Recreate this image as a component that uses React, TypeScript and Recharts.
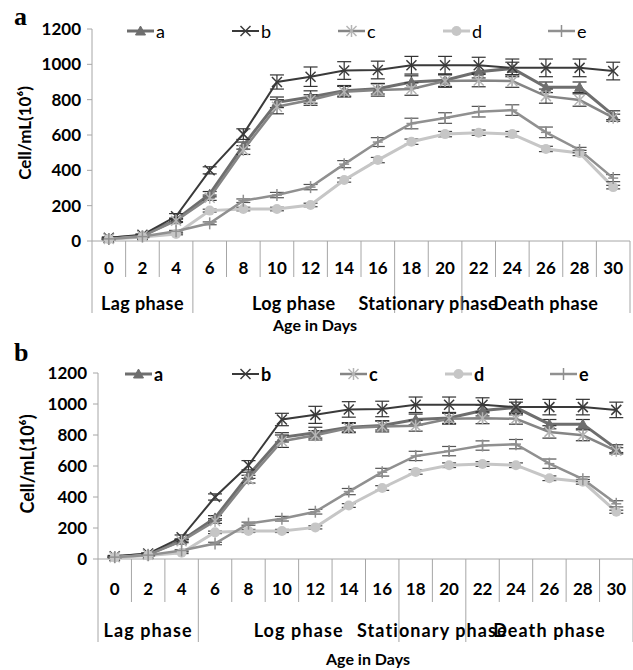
import React from 'react';
import { LineChart, Line, XAxis, YAxis, ErrorBar } from 'recharts';

const days = ['0', '2', '4', '6', '8', '10', '12', '14', '16', '18', '20', '22', '24', '26', '28', '30'];
const seriesA = [15, 30, 120, 265, 540, 785, 815, 850, 862, 900, 910, 958, 977, 870, 870, 712];
const seriesB = [18, 35, 140, 400, 605, 900, 930, 965, 968, 995, 995, 995, 980, 980, 980, 962];
const seriesC = [12, 28, 115, 245, 515, 760, 798, 845, 855, 860, 905, 908, 905, 820, 798, 698];
const seriesD = [10, 22, 40, 172, 181, 181, 204, 345, 458, 562, 605, 613, 605, 521, 498, 305];
const seriesE = [12, 25, 55, 100, 228, 260, 305, 435, 560, 665, 696, 732, 741, 615, 515, 356];
const errA = [5, 5, 10, 15, 20, 30, 35, 30, 30, 35, 35, 35, 35, 30, 30, 25];
const errB = [5, 5, 15, 20, 30, 40, 55, 50, 50, 50, 50, 45, 50, 50, 50, 50];
const errC = [5, 5, 10, 15, 25, 40, 30, 30, 35, 35, 35, 35, 35, 40, 35, 20];
const errD = [3, 3, 5, 8, 10, 10, 10, 12, 15, 15, 15, 15, 15, 15, 15, 10];
const errE = [3, 3, 5, 8, 10, 15, 15, 20, 25, 30, 30, 30, 30, 30, 15, 20];
const yTicks = [0, 200, 400, 600, 800, 1000, 1200];
const phaseLabels = ['Lag phase', 'Log phase', 'Stationary phase', 'Death phase'];
const phaseStarts = [0, 3, 9, 11];
const phaseEnds = [2, 8, 10, 15];
const seriesNames = ['a', 'b', 'c', 'd', 'e'];

const data = days.map((d, i) => ({
  day: d,
  a: seriesA[i], b: seriesB[i], c: seriesC[i], d: seriesD[i], e: seriesE[i],
  aErr: errA[i], bErr: errB[i], cErr: errC[i], dErr: errD[i], eErr: errE[i],
}));

const STYLE: Record<string, { color: string; width: number; kind: string; mark: string; err: string }> = {
  a: { color: '#6e6e6e', width: 3, kind: 'tri', mark: '#6e6e6e', err: '#333' },
  b: { color: '#3a3a3a', width: 2, kind: 'x', mark: '#3a3a3a', err: '#333' },
  c: { color: '#858585', width: 2.5, kind: 'star', mark: '#b5b5b5', err: '#333' },
  d: { color: '#c6c6c6', width: 3, kind: 'circle', mark: '#c6c6c6', err: '#444' },
  e: { color: '#909090', width: 2.5, kind: 'plus', mark: '#909090', err: '#555' },
};

const FONT = 'Lato, "Open Sans", sans-serif';

function Marker({ kind, cx, cy, color }: { kind: string; cx: number; cy: number; color: string }) {
  if (cx == null || cy == null) return null;
  switch (kind) {
    case 'tri':
      return <path d={`M${cx},${cy - 5} L${cx + 5},${cy + 4} L${cx - 5},${cy + 4} Z`} fill={color} stroke={color} />;
    case 'x':
      return (
        <g stroke={color} strokeWidth={1.5}>
          <line x1={cx - 5} y1={cy - 5} x2={cx + 5} y2={cy + 5} />
          <line x1={cx - 5} y1={cy + 5} x2={cx + 5} y2={cy - 5} />
        </g>
      );
    case 'star':
      return (
        <g stroke={color} strokeWidth={1.5}>
          <line x1={cx - 5} y1={cy - 5} x2={cx + 5} y2={cy + 5} />
          <line x1={cx - 5} y1={cy + 5} x2={cx + 5} y2={cy - 5} />
          <line x1={cx} y1={cy - 6} x2={cx} y2={cy + 6} />
        </g>
      );
    case 'circle':
      return <circle cx={cx} cy={cy} r={5} fill={color} />;
    default:
      return (
        <g stroke={color} strokeWidth={1.5}>
          <line x1={cx} y1={cy - 6} x2={cx} y2={cy + 6} />
          <line x1={cx - 5} y1={cy} x2={cx + 5} y2={cy} />
        </g>
      );
  }
}

type Cfg = {
  top: number; height: number; marginTop: number; axisH: number; yW: number; right: number;
  tickLen: number; longLen: number; labelDy: number; phaseDy: number;
  phaseFont: number; phaseSpacing: number; titleFont: number;
  legendY: number; legendX: number[]; legendBold: boolean; letter: string; letterY: number;
  titleX: number; titleY: number; ageX: number; ageY: number;
};

const cfgTop: Cfg = {
  top: 0, height: 340, marginTop: 29, axisH: 99, yW: 92, right: 3,
  tickLen: 36, longLen: 72, labelDy: 26, phaseDy: 62,
  phaseFont: 18, phaseSpacing: 0.4, titleFont: 17,
  legendY: 31, legendX: [127, 232, 338, 443, 548], legendBold: false, letter: 'a', letterY: 4,
  titleX: 25, titleY: 133, ageX: 315, ageY: 325,
};
const cfgBottom: Cfg = {
  top: 335, height: 335, marginTop: 38, axisH: 111, yW: 98, right: 0,
  tickLen: 43, longLen: 83, labelDy: 29, phaseDy: 71,
  phaseFont: 18, phaseSpacing: 1.1, titleFont: 18,
  legendY: 374, legendX: [125, 232, 340, 445, 550], legendBold: true, letter: 'b', letterY: 340,
  titleX: 27, titleY: 464, ageX: 368, ageY: 659,
};

function makeTick(cfg: Cfg) {
  const step = (633 - cfg.yW - cfg.right) / days.length;
  const half = step / 2;
  return (props: any) => {
    const { x, y, payload, index } = props;
    const isLong = phaseStarts.includes(index);
    const pi = phaseStarts.indexOf(index);
    return (
      <g>
        <line x1={x - half} x2={x - half} y1={y} y2={y + (isLong ? cfg.longLen : cfg.tickLen)} stroke="#a6a6a6" />
        {index === days.length - 1 && (
          <line x1={x + half} x2={x + half} y1={y} y2={y + cfg.longLen} stroke="#a6a6a6" />
        )}
        <text x={x} y={y + cfg.labelDy} textAnchor="middle" dominantBaseline="central"
          fontFamily={FONT} fontWeight={700} fontSize={17} fill="#000">{payload.value}</text>
        {pi >= 0 && (
          <text x={x + ((phaseEnds[pi] - phaseStarts[pi]) * step) / 2} y={y + cfg.phaseDy} textAnchor="middle"
            dominantBaseline="central" fontFamily={FONT} fontWeight={700} fontSize={cfg.phaseFont}
            letterSpacing={cfg.phaseSpacing} fill="#000">
            {phaseLabels[pi]}
          </text>
        )}
      </g>
    );
  };
}

function LegendBox({ cfg }: { cfg: Cfg }) {
  const ly = cfg.legendY - cfg.top;
  return (
    <svg width={633} height={60} style={{ position: 'absolute', left: 0, top: 0 }}>
      {seriesNames.map((n, i) => {
        const s = STYLE[n];
        const x0 = cfg.legendX[i];
        return (
          <g key={n}>
            <line x1={x0} x2={x0 + 27} y1={ly} y2={ly} stroke={s.color} strokeWidth={s.width} />
            <Marker kind={s.kind} cx={x0 + 13.5} cy={ly} color={s.mark} />
            <text x={x0 + 29} y={ly} dominantBaseline="central" fontFamily={FONT} fontSize={18}
              fontWeight={cfg.legendBold ? 700 : 400} fill="#000">{n}</text>
          </g>
        );
      })}
    </svg>
  );
}

function Panel({ cfg }: { cfg: Cfg }) {
  const step = (633 - cfg.yW - cfg.right) / days.length;
  return (
    <div style={{ position: 'absolute', left: 0, top: cfg.top, width: 633, height: cfg.height }}>
      <LineChart width={633} height={cfg.height} data={data}
        margin={{ top: cfg.marginTop, right: cfg.right, bottom: 0, left: 0 }}>
        <XAxis dataKey="day" interval={0} height={cfg.axisH} padding={{ left: step / 2, right: step / 2 }}
          tickLine={false} tickSize={0} tickMargin={0} axisLine={{ stroke: '#a6a6a6' }} tick={makeTick(cfg)} />
        <YAxis domain={[0, 1200]} ticks={yTicks} width={cfg.yW} interval={0}
          axisLine={{ stroke: '#a6a6a6' }} tickLine={{ stroke: '#a6a6a6' }} tickSize={5} tickMargin={6}
          tick={{ fontFamily: FONT, fontWeight: 700, fontSize: 17, fill: '#000' }} />
        {seriesNames.map((n) => {
          const s = STYLE[n];
          return (
            <Line key={n} dataKey={n} stroke={s.color} strokeWidth={s.width} isAnimationActive={false}
              dot={(p: any) => <Marker key={`${n}${p.index}`} kind={s.kind} cx={p.cx} cy={p.cy} color={s.mark} />}
              activeDot={false}>
              <ErrorBar dataKey={`${n}Err`} direction="y" width={7} stroke={s.err} strokeWidth={1.2} />
            </Line>
          );
        })}
      </LineChart>
      <LegendBox cfg={cfg} />
      <div style={{ position: 'absolute', left: 14, top: cfg.letterY - cfg.top, fontFamily: '"Liberation Serif", serif',
        fontWeight: 700, fontSize: 26, lineHeight: '26px' }}>{cfg.letter}</div>
      <div style={{ position: 'absolute', left: cfg.titleX, top: cfg.titleY - cfg.top, transform: 'translate(-50%, -50%) rotate(-90deg)',
        whiteSpace: 'nowrap', fontFamily: FONT, fontWeight: 700, fontSize: cfg.titleFont, lineHeight: '20px' }}>Cell/mL(10⁶)</div>
      <div style={{ position: 'absolute', left: cfg.ageX, top: cfg.ageY - cfg.top, transform: 'translate(-50%, -50%)',
        whiteSpace: 'nowrap', fontFamily: FONT, fontWeight: 700, fontSize: 16, lineHeight: '16px' }}>Age in Days</div>
    </div>
  );
}

export default function App() {
  return (
    <div style={{ position: 'absolute', left: 0, top: 0, width: 633, height: 670, background: '#fff', overflow: 'hidden' }}>
      <Panel cfg={cfgTop} />
      <Panel cfg={cfgBottom} />
    </div>
  );
}
